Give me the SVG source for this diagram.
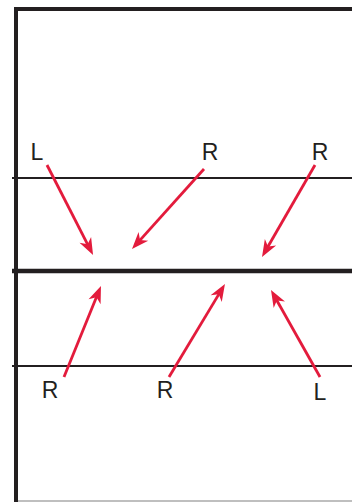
<svg xmlns="http://www.w3.org/2000/svg" width="352" height="502" viewBox="0 0 352 502">
<style>
.frame{stroke:#231f20;fill:none;stroke-linecap:butt}
.arr{stroke:#e31b3c;stroke-width:2.8;fill:none;marker-end:url(#ah)}
.lbl{font-family:"Liberation Sans",Arial,sans-serif;font-size:23px;fill:#231f20;text-anchor:middle}
</style>
<defs>
<marker id="ah" viewBox="-8 -7 19 14" refX="0" refY="0" markerWidth="19" markerHeight="14" markerUnits="userSpaceOnUse" orient="auto">
<path d="M10 0 L-7 -6.5 L-2 0 L-7 6.5 Z" fill="#e31b3c"/>
</marker>
</defs>
<rect width="352" height="502" fill="#fff"/>
<g id="frame">
<line class="frame" x1="14" y1="9" x2="352" y2="9" stroke-width="4"/>
<line class="frame" x1="16" y1="7" x2="16" y2="502" stroke-width="4"/>
<line x1="18" y1="501" x2="352" y2="501" stroke="#aaa" stroke-width="1.5"/>
<line class="frame" x1="12" y1="178" x2="352" y2="178" stroke-width="2"/>
<line class="frame" x1="12" y1="271" x2="352" y2="271" stroke-width="4.5"/>
<line class="frame" x1="12" y1="366" x2="352" y2="366" stroke-width="2"/>
</g>
<g id="labels">
<text class="lbl" x="37" y="160">L</text>
<text class="lbl" x="210" y="160">R</text>
<text class="lbl" x="320" y="160">R</text>
<text class="lbl" x="50" y="398">R</text>
<text class="lbl" x="165" y="398">R</text>
<text class="lbl" x="320" y="400">L</text>
</g>
<g id="connectors">
<line class="arr" x1="47" y1="165" x2="88.5" y2="246.1"/>
<line class="arr" x1="204" y1="169" x2="138.7" y2="241.6"/>
<line class="arr" x1="315" y1="165" x2="267" y2="248.3"/>
<line class="arr" x1="64" y1="377" x2="97.2" y2="295.3"/>
<line class="arr" x1="169" y1="377" x2="219.8" y2="292.6"/>
<line class="arr" x1="320" y1="377" x2="275.9" y2="298.7"/>
</g>
</svg>
